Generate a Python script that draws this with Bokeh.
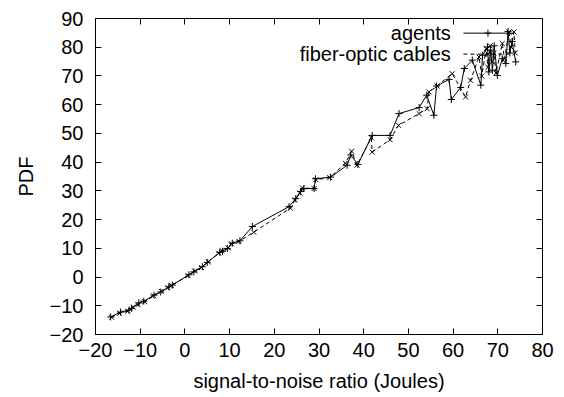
from bokeh.plotting import figure
from bokeh.models import Range1d, LinearAxis, FixedTicker, CustomJSTickFormatter, Label
from bokeh.embed import file_html
from bokeh.resources import INLINE

# ---- data ----
agents_x = [-16.6, -14.4, -12.5, -11.9, -10.3, -9.2, -6.9, -5.4, -3.6, -2.8, 0.9, 2.0, 3.9, 5.0,
            7.8, 8.4, 9.5, 10.6, 12.3, 15.1, 23.3, 24.8, 25.9, 26.6, 28.9, 29.2, 32.6, 36.3, 37.1,
            38.7, 41.9, 45.9, 47.9, 52.4, 54.1, 55.7, 56.3, 59.1, 59.6, 61.7, 62.5, 64.3, 66.2,
            66.6, 67.7, 68.0, 68.4, 68.8, 69.2, 69.9, 71.0, 71.8, 72.3, 72.7, 73.2, 74.0]
agents_y = [-13.9, -12.2, -11.5, -10.9, -9.0, -8.4, -6.3, -5.2, -3.4, -2.8, 0.8, 1.8, 3.6, 5.1,
            8.6, 9.0, 9.9, 11.8, 12.6, 17.6, 24.5, 27.3, 29.8, 30.8, 30.8, 34.2, 34.8, 38.9, 42.5,
            39.2, 49.3, 49.3, 56.9, 59.0, 63.3, 56.3, 66.5, 68.8, 61.8, 66.0, 72.6, 75.5, 66.8,
            77.2, 80.1, 71.4, 79.0, 72.0, 80.5, 70.2, 76.0, 74.3, 85.5, 78.0, 82.0, 74.9]

fiber_x = [-16.4, -14.6, -12.8, -11.6, -10.5, -9.0, -7.0, -5.3, -3.8, -3.0, 0.7, 2.2, 3.7, 5.2,
           7.6, 8.3, 9.7, 10.4, 12.1, 15.4, 23.6, 24.6, 25.7, 26.3, 28.9, 29.3, 32.4, 35.9, 37.3,
           38.5, 41.7, 41.9, 45.9, 47.8, 52.4, 54.2, 54.6, 56.4, 59.8, 62.8, 63.9, 65.8, 66.4,
           67.4, 67.8, 68.3, 68.7, 69.1, 69.6, 71.0, 71.5, 72.5, 73.0, 73.6, 73.9]
fiber_y = [-14.0, -12.6, -11.9, -10.5, -9.6, -8.6, -6.5, -5.0, -3.7, -2.9, 0.5, 2.1, 3.3, 5.3,
           8.3, 9.2, 10.1, 11.6, 12.4, 15.6, 24.0, 26.8, 29.2, 31.0, 30.8, 33.9, 34.6, 39.6, 43.8,
           39.0, 48.5, 43.5, 47.8, 52.8, 56.9, 58.6, 64.4, 66.5, 70.8, 62.7, 68.5, 76.6, 70.0,
           79.5, 73.0, 80.5, 75.0, 78.0, 71.0, 81.3, 76.0, 85.3, 80.0, 85.3, 78.0]

x_ticks = [-20, -10, 0, 10, 20, 30, 40, 50, 60, 70, 80]
y_ticks = [-20, -10, 0, 10, 20, 30, 40, 50, 60, 70, 80, 90]
series_names = ["agents", "fiber-optic cables"]

FONT = "Liberation Sans"
FS = "20px"

p = figure(width=564, height=397, output_backend="svg", toolbar_location=None,
           x_range=Range1d(-20, 80), y_range=Range1d(-20, 90),
           min_border_left=95, min_border_right=22, min_border_top=18, min_border_bottom=63)
p.background_fill_color = "white"
p.border_fill_color = "white"
p.outline_line_color = "black"
p.outline_line_width = 1
p.grid.visible = False

for ax in (p.xaxis[0], p.yaxis[0]):
    ax.major_tick_in = 6
    ax.major_tick_out = 0
    ax.minor_tick_line_color = None
    ax.axis_line_color = "black"
    ax.major_label_text_font = FONT
    ax.major_label_text_font_size = FS
    ax.major_label_text_color = "black"
    ax.axis_label_text_font = FONT
    ax.axis_label_text_font_size = FS
    ax.axis_label_text_font_style = "normal"
    ax.axis_label_text_color = "black"

p.xaxis[0].ticker = FixedTicker(ticks=x_ticks)
p.yaxis[0].ticker = FixedTicker(ticks=y_ticks)
p.xaxis[0].axis_label = "signal-to-noise ratio (Joules)"
p.yaxis[0].axis_label = "PDF"
p.xaxis[0].major_label_standoff = 8
p.xaxis[0].axis_label_standoff = 10
p.yaxis[0].major_label_standoff = 12
p.yaxis[0].axis_label_standoff = 10

blank = CustomJSTickFormatter(code="return ''")
top = LinearAxis(ticker=FixedTicker(ticks=x_ticks), formatter=blank)
right = LinearAxis(ticker=FixedTicker(ticks=y_ticks), formatter=blank)
for ax in (top, right):
    ax.major_tick_in = 6
    ax.major_tick_out = 0
    ax.minor_tick_line_color = None
    ax.axis_line_color = None
    ax.major_label_standoff = 0
    ax.major_label_text_font_size = "1px"
p.add_layout(top, "above")
p.add_layout(right, "right")

# data series
p.line(agents_x, agents_y, line_color="black", line_width=1)
p.scatter(agents_x, agents_y, marker="cross", size=7, line_color="black", line_width=1)
p.line(fiber_x, fiber_y, line_color="black", line_width=1, line_dash="4 3")
p.scatter(fiber_x, fiber_y, marker="x", size=7, line_color="black", line_width=1)

# legend (gnuplot style: label on left, sample on right)
leg_text_x = 59.5
leg_y = [84.9, 77.6]
for name, ly in zip(series_names, leg_y):
    p.add_layout(Label(x=leg_text_x, y=ly, text=name, text_align="right", text_baseline="middle",
                       text_font=FONT, text_font_size=FS, text_color="black"))
p.line([62.3, 73.3], [leg_y[0], leg_y[0]], line_color="black", line_width=1)
p.scatter([67.8], [leg_y[0]], marker="cross", size=7, line_color="black")
p.line([62.3, 73.3], [leg_y[1], leg_y[1]], line_color="black", line_width=1, line_dash="4 3")
p.scatter([67.8], [leg_y[1]], marker="x", size=7, line_color="black")

open("out.html", "w").write(file_html(p, INLINE))
